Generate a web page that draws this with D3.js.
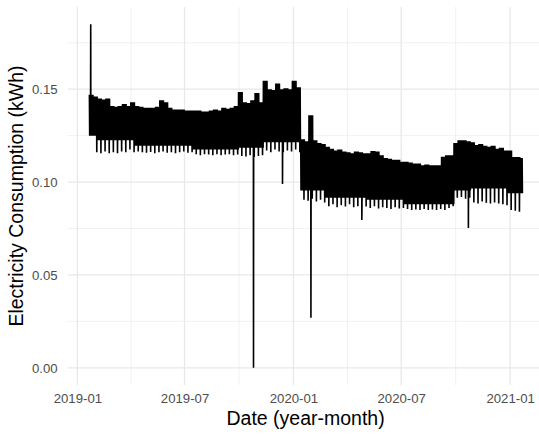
<!DOCTYPE html>
<html>
<head>
<meta charset="utf-8">
<script src="https://cdn.jsdelivr.net/npm/d3@7"></script>
<style>
  body { margin: 0; background: #fff; }
  svg { display: block; font-family: "Liberation Sans", Arial, sans-serif; }
</style>
</head>
<body>
<div id="chart"></div>
<script>
// weekly readings, week 0 starts 2019-01-21
const startDate = "2019-01-21"
const endDate = "2021-01-21"

// upper edge of the band per week (kWh)
const weekHigh = [
  0.147, 0.146, 0.145, 0.1445, 0.145, 0.141, 0.1405, 0.141, 0.142, 0.141,
  0.143, 0.141, 0.1405, 0.140, 0.140, 0.140, 0.1405, 0.144, 0.143, 0.140,
  0.139, 0.139, 0.139, 0.1385, 0.1385, 0.1385, 0.1385, 0.138, 0.138, 0.1385,
  0.139, 0.1385, 0.140, 0.1395, 0.140, 0.141, 0.1485, 0.143, 0.1425, 0.144,
  0.148, 0.143, 0.1545, 0.150, 0.1495, 0.153, 0.150, 0.1505, 0.150, 0.1545,
  0.151, 0.123, 0.122, 0.136, 0.1225, 0.121, 0.1205, 0.119, 0.118, 0.117,
  0.1175, 0.1165, 0.116, 0.1155, 0.1165, 0.116, 0.1155, 0.1155, 0.1167, 0.1165,
  0.1145, 0.113, 0.1125, 0.112, 0.112, 0.111, 0.111, 0.1105, 0.110, 0.110,
  0.109, 0.1095, 0.109, 0.109, 0.109, 0.1136, 0.1145, 0.1145, 0.121, 0.1225,
  0.1225, 0.122, 0.1215, 0.120, 0.1205, 0.1195, 0.119, 0.1195, 0.118, 0.1185,
  0.117, 0.117, 0.1135, 0.1135, 0.113
]

// lower edge on ordinary days
const weekLow = [
  0.125, 0.125, 0.1225, 0.1225, 0.1225, 0.1225, 0.1225, 0.1225, 0.1225, 0.1225,
  0.1225, 0.1195, 0.1195, 0.1195, 0.1195, 0.1195, 0.1195, 0.1195, 0.1195, 0.1195,
  0.1195, 0.1195, 0.1195, 0.1195, 0.1195, 0.1175, 0.1175, 0.1175, 0.1175, 0.1175,
  0.1175, 0.1175, 0.1175, 0.1175, 0.1175, 0.1175, 0.1185, 0.1185, 0.1185, 0.1185,
  0.1185, 0.1185, 0.1215, 0.1215, 0.1215, 0.1215, 0.1215, 0.1215, 0.1215, 0.1215,
  0.1215, 0.0955, 0.0955, 0.0955, 0.0955, 0.0955, 0.0955, 0.0915, 0.0915, 0.0915,
  0.0915, 0.0915, 0.0915, 0.0915, 0.0915, 0.0915, 0.0915, 0.0905, 0.0905, 0.0905,
  0.0905, 0.0905, 0.0905, 0.0905, 0.0905, 0.0905, 0.088, 0.088, 0.088, 0.088,
  0.088, 0.088, 0.088, 0.088, 0.088, 0.088, 0.088, 0.088, 0.0955, 0.0955,
  0.0955, 0.0955, 0.0965, 0.0965, 0.0965, 0.0965, 0.0965, 0.0965, 0.0965, 0.0965,
  0.0965, 0.094, 0.094, 0.094, 0.094
]

// the low day of each week (the teeth under the band)
const weekDip = [
  0.125, 0.1160, 0.1155, 0.1165, 0.1155, 0.1160, 0.1155, 0.1165, 0.1160, 0.1175,
  0.1160, 0.1165, 0.1160, 0.1158, 0.1162, 0.1155, 0.1160, 0.1165, 0.1158, 0.1160,
  0.1155, 0.1160, 0.1165, 0.1158, 0.1160, 0.1150, 0.1145, 0.1150, 0.1148, 0.1145,
  0.1150, 0.1145, 0.1148, 0.1150, 0.1145, 0.1148, 0.1140, 0.1138, 0.1145, 0.1135,
  0.1140, 0.1145, 0.1170, 0.1160, 0.1175, 0.1165, 0.1160, 0.1170, 0.1165, 0.1175,
  0.1160, 0.0905, 0.0900, 0.0910, 0.0895, 0.0905, 0.0890, 0.0870, 0.0880, 0.0865,
  0.0875, 0.0868, 0.0880, 0.0865, 0.0870, 0.0875, 0.0868, 0.0860, 0.0870, 0.0858,
  0.0865, 0.0860, 0.0855, 0.0865, 0.0858, 0.0860, 0.0855, 0.0850, 0.0852, 0.0850,
  0.0855, 0.0850, 0.0852, 0.0850, 0.0855, 0.0850, 0.0860, 0.0870, 0.0915, 0.0920,
  0.0910, 0.0915, 0.0890, 0.0885, 0.0895, 0.0888, 0.0885, 0.0890, 0.0885, 0.0880,
  0.0875, 0.0850, 0.0845, 0.0840, 0.0845
]

// single readings far off the band
const outlierDates = ["2019-01-23", "2019-10-25", "2019-12-13", "2020-01-30", "2020-04-25", "2020-10-22"]
const outlierValues = [0.185, 0.0, 0.099, 0.027, 0.0796, 0.0753]

const yTicks = [0, 0.05, 0.10, 0.15]
const yMinor = [0.025, 0.075, 0.125, 0.175]
const xTicks = ["2019-01", "2019-07", "2020-01", "2020-07", "2021-01"]

const width = 539
const height = 434
const panel = { left: 67.6, right: 543.6, top: 7, bottom: 385 }

const parse = d3.utcParse("%Y-%m-%d")
const parseMonth = d3.utcParse("%Y-%m")
const dayMs = 86400000

const t0 = parse(startDate)
const t1 = parse(endDate)

// build the series: two readings a day, day 5 of each week is the low one
let series = []
weekHigh.forEach((hi, w) => {
  for (let d = 0; d < 7; d++) {
    let base = t0.getTime() + (w * 7 + d) * dayMs
    if (base > t1.getTime()) break
    series.push({ date: new Date(base + 0.25 * dayMs), value: hi })
    series.push({ date: new Date(base + 0.75 * dayMs), value: d === 5 ? weekDip[w] : weekLow[w] })
  }
})
outlierDates.forEach((s, i) => {
  series.push({ date: new Date(parse(s).getTime() + 0.5 * dayMs), value: outlierValues[i] })
})
series.sort((a, b) => a.date - b.date)

// ggplot style 5% expansion
const span = t1 - t0
const x = d3.scaleUtc()
  .domain([new Date(t0.getTime() - span * 0.05), new Date(t1.getTime() + span * 0.05)])
  .range([panel.left, panel.right])

const yMax = 0.185
const y = d3.scaleLinear()
  .domain([-yMax * 0.05, yMax * 1.05])
  .range([panel.bottom, panel.top])

const svg = d3.select("#chart").append("svg")
  .attr("width", width)
  .attr("height", height)

svg.append("rect").attr("width", width).attr("height", height).attr("fill", "#fff")

// minor x breaks sit halfway between the majors
const xMajor = xTicks.map(s => parseMonth(s))
const xMinor = []
for (let i = 0; i < xMajor.length - 1; i++) {
  xMinor.push(new Date((xMajor[i].getTime() + xMajor[i + 1].getTime()) / 2))
}

const grid = svg.append("g")
grid.selectAll("line.ym").data(yMinor).enter().append("line")
  .attr("x1", panel.left).attr("x2", panel.right)
  .attr("y1", d => y(d)).attr("y2", d => y(d))
  .attr("stroke", "#ebebeb").attr("stroke-width", 0.7)
grid.selectAll("line.xm").data(xMinor).enter().append("line")
  .attr("y1", panel.top).attr("y2", panel.bottom)
  .attr("x1", d => x(d)).attr("x2", d => x(d))
  .attr("stroke", "#ebebeb").attr("stroke-width", 0.7)
grid.selectAll("line.yM").data(yTicks).enter().append("line")
  .attr("x1", panel.left).attr("x2", panel.right)
  .attr("y1", d => y(d)).attr("y2", d => y(d))
  .attr("stroke", "#e8e8e8").attr("stroke-width", 1.3)
grid.selectAll("line.xM").data(xMajor).enter().append("line")
  .attr("y1", panel.top).attr("y2", panel.bottom)
  .attr("x1", d => x(d)).attr("x2", d => x(d))
  .attr("stroke", "#e8e8e8").attr("stroke-width", 1.3)

const line = d3.line()
  .x(d => x(d.date))
  .y(d => y(d.value))

svg.append("path")
  .datum(series)
  .attr("d", line)
  .attr("fill", "none")
  .attr("stroke", "#000")
  .attr("stroke-width", 1.6)
  .attr("stroke-linejoin", "miter")

// axes, ggplot minimal: no axis lines, no ticks
const yAxis = svg.append("g")
  .attr("transform", `translate(${panel.left - 10},0)`)
  .call(d3.axisLeft(y).tickValues(yTicks).tickFormat(d3.format(".2f")).tickSize(0).tickPadding(0))
const xAxis = svg.append("g")
  .attr("transform", `translate(0,${panel.bottom + 10})`)
  .call(d3.axisBottom(x).tickValues(xMajor).tickFormat(d3.utcFormat("%Y-%m")).tickSize(0).tickPadding(0))

for (const g of [yAxis, xAxis]) {
  g.select(".domain").remove()
  g.selectAll("text")
    .attr("fill", "#4d4d4d")
    .style("font-size", "13.2px")
    .style("font-family", "Liberation Sans, Arial, sans-serif")
}
xAxis.selectAll("text").attr("dy", "0.71em").attr("y", -1)

svg.append("text")
  .attr("x", (panel.left + panel.right) / 2)
  .attr("y", 425)
  .attr("text-anchor", "middle")
  .style("font-size", "19.5px")
  .attr("fill", "#000")
  .text("Date (year-month)")

svg.append("text")
  .attr("transform", `translate(23,${(panel.top + panel.bottom) / 2}) rotate(-90)`)
  .attr("text-anchor", "middle")
  .style("font-size", "19.5px")
  .attr("fill", "#000")
  .text("Electricity Consumption (kWh)")
</script>
</body>
</html>
